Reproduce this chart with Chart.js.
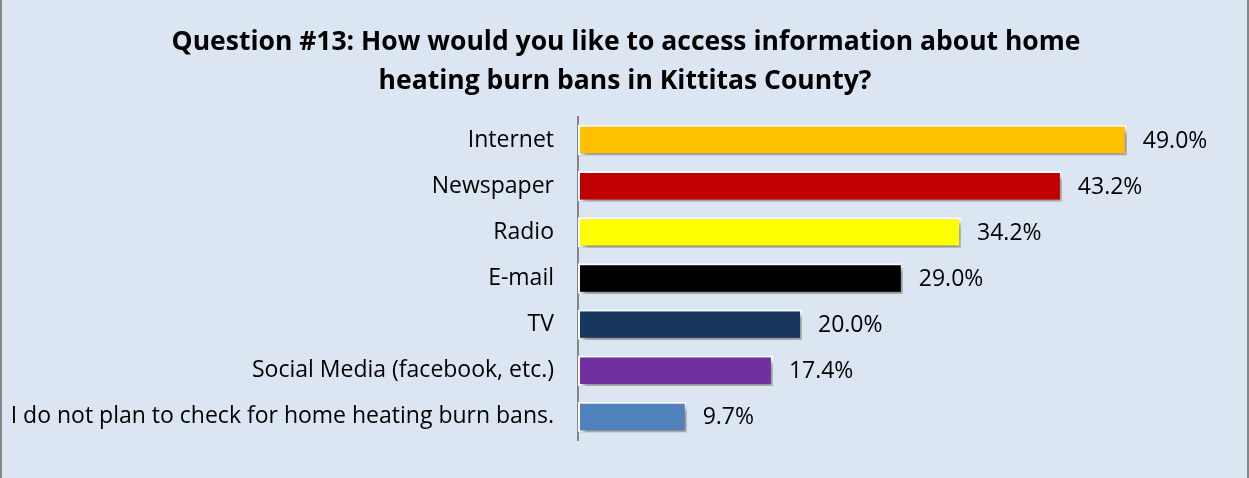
<!DOCTYPE html>
<html><head><meta charset="utf-8">
<script src="https://cdn.jsdelivr.net/npm/chart.js@4.4.1/dist/chart.umd.min.js"></script>
<style>html,body{margin:0;padding:0;background:#dce6f2}#wrap{width:1249px;height:478px}</style>
</head><body><div id="wrap"><canvas id="c" width="1249" height="478"></canvas></div>
<script>
const categories = ["Internet","Newspaper","Radio","E-mail","TV","Social Media (facebook, etc.)","I do not plan to check for home heating burn bans."];
const values = [49.0,43.2,34.2,29.0,20.0,17.4,9.7];
const barColors = ["#ffc000","#c00000","#ffff00","#000000","#17375e","#7030a0","#4f81bd"];
const titleLines = ["Question #13: How would you like to access information about home","heating burn bans in Kittitas County?"];
const FONT = "'Open Sans', Lato, sans-serif";

const bgPlugin = {
  id:'bg',
  beforeDraw(chart){
    const ctx=chart.ctx; ctx.save();
    ctx.fillStyle='#dce6f2'; ctx.fillRect(0,0,chart.width,chart.height);
    ctx.fillStyle='#868686';
    ctx.fillRect(0,0,2,chart.height);
    ctx.fillRect(chart.width-2,0,2,chart.height);
    ctx.restore();
  }
};
const titlePlugin = {
  id:'ttl',
  afterDraw(chart){
    const ctx=chart.ctx; ctx.save();
    ctx.font="bold 26.5px "+FONT; ctx.fillStyle='#000'; ctx.textAlign='center'; ctx.textBaseline='alphabetic';
    ctx.fillText(titleLines[0], 626, 50);
    ctx.fillText(titleLines[1], 625, 89);
    ctx.restore();
  }
};
const shadowPlugin = {
  id:'shadow',
  beforeDatasetsDraw(chart){
    const ctx=chart.ctx; ctx.save();
    ctx.shadowColor='rgba(0,0,0,0.45)'; ctx.shadowBlur=5; ctx.shadowOffsetX=3; ctx.shadowOffsetY=4;
  },
  afterDatasetsDraw(chart){ chart.ctx.restore(); }
};
const labelPlugin = {
  id:'vlabels',
  afterDraw(chart){
    const ctx=chart.ctx; const meta=chart.getDatasetMeta(0);
    ctx.save(); ctx.font="23px "+FONT; ctx.fillStyle='#000'; ctx.textAlign='left'; ctx.textBaseline='middle';
    meta.data.forEach((el,i)=>{ ctx.fillText(values[i].toFixed(1)+'%', el.x+16, el.y+1); });
    ctx.restore();
  }
};

new Chart(document.getElementById('c'),{
  type:'bar',
  data:{labels:categories,datasets:[{data:values,backgroundColor:barColors,borderColor:'#ffffff',borderWidth:2,borderSkipped:false,barPercentage:0.66,categoryPercentage:1}]},
  options:{
    indexAxis:'y',responsive:false,animation:false,
    layout:{padding:{left:0,right:111,top:117,bottom:38}},
    plugins:{legend:{display:false},tooltip:{enabled:false},title:{display:false}},
    scales:{
      x:{display:false,min:0,max:50},
      y:{grid:{display:false,drawTicks:false},border:{display:true,color:'#868686',width:2},
         ticks:{color:'#000',font:{family:FONT,size:23},padding:24},
         afterFit(s){s.width=578;}}
    }
  },
  plugins:[bgPlugin,shadowPlugin,labelPlugin,titlePlugin]
});
</script></body></html>
